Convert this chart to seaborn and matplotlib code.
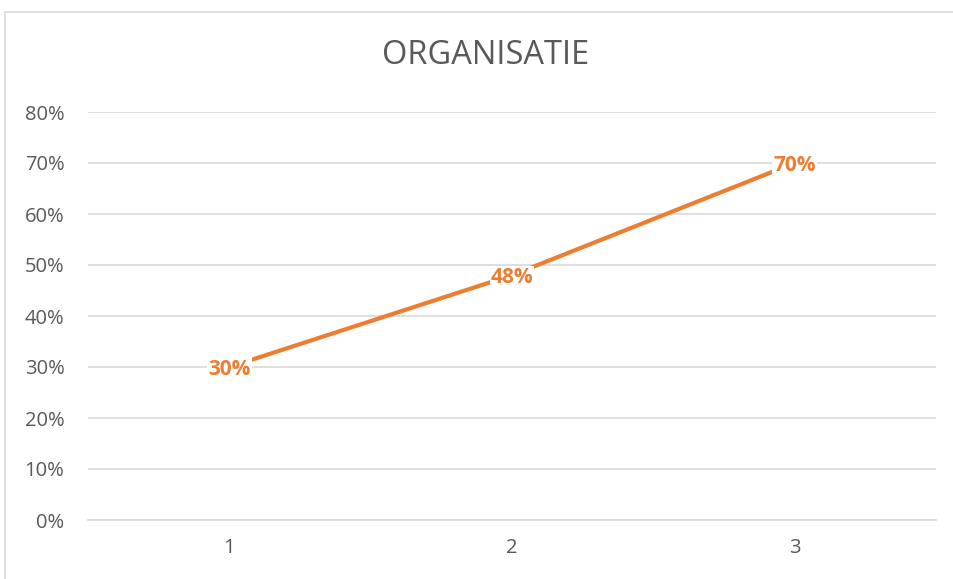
import matplotlib
matplotlib.use("Agg")
import matplotlib.pyplot as plt
import matplotlib.ticker as mticker
import pandas as pd
import seaborn as sns

categories = [1, 2, 3]
values = [0.30, 0.48, 0.70]
labels = ["30%", "48%", "70%"]
title = "ORGANISATIE"

df = pd.DataFrame({"cat": categories, "val": values})

sns.set_style("white")
plt.rcParams['font.family'] = ['Open Sans', 'DejaVu Sans']

orange = "#ED7D31"
grey_txt = "#595959"
grid_c = "#D9D9D9"

fig = plt.figure(figsize=(9.54, 5.79), dpi=100)
ax = fig.add_axes([88/954, 59/579, (936-88)/954, (520-112)/579])

sns.lineplot(data=df, x="cat", y="val", ax=ax, color=orange, linewidth=3, zorder=3)

ax.set_xlim(0.5, 3.5)
ax.set_ylim(0, 0.8)
ax.yaxis.set_major_locator(mticker.MultipleLocator(0.1))
ax.yaxis.set_major_formatter(mticker.FuncFormatter(lambda v, p: f"{round(v*100)}%"))
ax.set_xticks(categories)
ax.set_xticklabels([str(c) for c in categories])
ax.set_xticks([0.5, 1.5, 2.5, 3.5], minor=True)
ax.tick_params(axis="x", which="major", length=0, pad=13, labelsize=14.5, labelcolor=grey_txt)
ax.tick_params(axis="x", which="minor", length=7, width=1.2, color=grid_c, direction="out")
ax.tick_params(axis="y", length=0, pad=17, labelsize=14.5, labelcolor=grey_txt)
ax.grid(axis="y", color=grid_c, linewidth=1.2, zorder=0)
ax.set_axisbelow(True)
for s in ["top", "right", "left"]:
    ax.spines[s].set_visible(False)
ax.spines["bottom"].set_color(grid_c)
ax.spines["bottom"].set_linewidth(1.2)
ax.set_xlabel("")
ax.set_ylabel("")

for x, y, t in zip(categories, values, labels):
    ax.text(x, y - 0.004, t, ha="center", va="center", color=orange, fontsize=15,
            fontweight="bold", zorder=4,
            bbox=dict(boxstyle="square,pad=0.05", fc="white", ec="none"))

fig.text(486/954, 1 - 55/579, title, ha="center", va="center", fontsize=23.5, color=grey_txt)

# chart border
fig.add_artist(plt.Line2D([5/954, 5/954], [0, 1 - 12/579], transform=fig.transFigure, color=grid_c, linewidth=1.2))
fig.add_artist(plt.Line2D([5/954, 1], [1 - 12/579, 1 - 12/579], transform=fig.transFigure, color=grid_c, linewidth=1.2))

fig.savefig("out.png", dpi=100, facecolor="white")
